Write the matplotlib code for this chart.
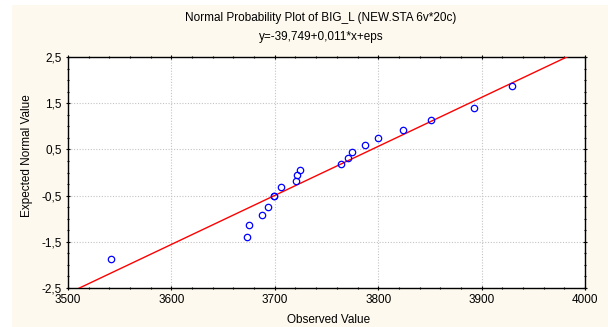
import numpy as np
import matplotlib
matplotlib.use("Agg")
import matplotlib.pyplot as plt
from matplotlib.patches import Rectangle
from matplotlib.ticker import MultipleLocator, FuncFormatter

plt.rcParams['font.family'] = ['Liberation Sans', 'DejaVu Sans']

# Data
observed = [3541.3, 3673.4, 3674.8, 3687.6, 3693.4, 3699.5, 3699.5, 3705.7,
            3720.2, 3721.5, 3724.4, 3763.7, 3770.5, 3774.7, 3787.2, 3799.8,
            3823.7, 3851.4, 3892.6, 3929.4]
expected = [-1.868, -1.403, -1.128, -0.919, -0.744, -0.518, -0.518, -0.315,
            -0.187, -0.062, 0.062, 0.187, 0.315, 0.448, 0.589, 0.744,
            0.919, 1.128, 1.403, 1.868]
fit_intercept = -39.749
fit_slope = 0.010609

title1 = "Normal Probability Plot of BIG_L (NEW.STA 6v*20c)"
title2 = "y=-39,749+0,011*x+eps"
xlabel = "Observed Value"
ylabel = "Expected Normal Value"
xticks = [3500, 3600, 3700, 3800, 3900, 4000]
yticks = [-2.5, -1.5, -0.5, 0.5, 1.5, 2.5]

W, H = 608, 327
fig = plt.figure(figsize=(W / 100, H / 100), dpi=100)
fig.patch.set_facecolor('white')
fig.patches.append(Rectangle((12 / W, 0), 1 - 12 / W, 1 - 5 / H, transform=fig.transFigure,
                             facecolor='#FDF9EE', edgecolor='none', zorder=-10))

ax = fig.add_axes([68 / W, 1 - 288 / H, (585 - 68) / W, (288 - 57) / H])
ax.set_facecolor('white')
ax.set_xlim(3500, 4000)
ax.set_ylim(-2.5, 2.5)

xl = np.array([3500, 4000])
ax.plot(xl, fit_intercept + fit_slope * xl, color='#FF0000', lw=1.0, zorder=3)
ax.plot(observed, expected, linestyle='none', marker='o', markersize=4.6,
        markerfacecolor='none', markeredgecolor='#0000FF', markeredgewidth=0.9, zorder=4)

ax.set_xticks(xticks)
ax.set_yticks(yticks)
ax.xaxis.set_minor_locator(MultipleLocator(20))
ax.yaxis.set_minor_locator(MultipleLocator(0.25))
ax.yaxis.set_major_formatter(FuncFormatter(lambda v, p: f"{v:.1f}".replace('.', ',')))
ax.xaxis.set_major_formatter(FuncFormatter(lambda v, p: f"{int(v)}"))
ax.grid(True, which='major', linestyle=(0, (1, 1.5)), color='#C4C4C4', lw=0.8)
ax.tick_params(which='both', direction='inout', top=True, right=True, labelsize=8.5,
               colors='black', pad=3)
ax.tick_params(which='major', length=3, width=0.8)
ax.tick_params(which='minor', length=2, width=0.8)
for s in ax.spines.values():
    s.set_linewidth(1.0)
    s.set_color('black')

fig.text(321 / W, 1 - 18 / H, title1, ha='center', va='center', fontsize=8.5)
fig.text(321 / W, 1 - 37 / H, title2, ha='center', va='center', fontsize=8.5)
fig.text(329 / W, 1 - 320 / H, xlabel, ha='center', va='center', fontsize=8.5)
fig.text(27 / W, 1 - 156 / H, ylabel, ha='center', va='center', rotation=90, fontsize=8.5)

fig.savefig('out.png', dpi=100, facecolor=fig.get_facecolor())
